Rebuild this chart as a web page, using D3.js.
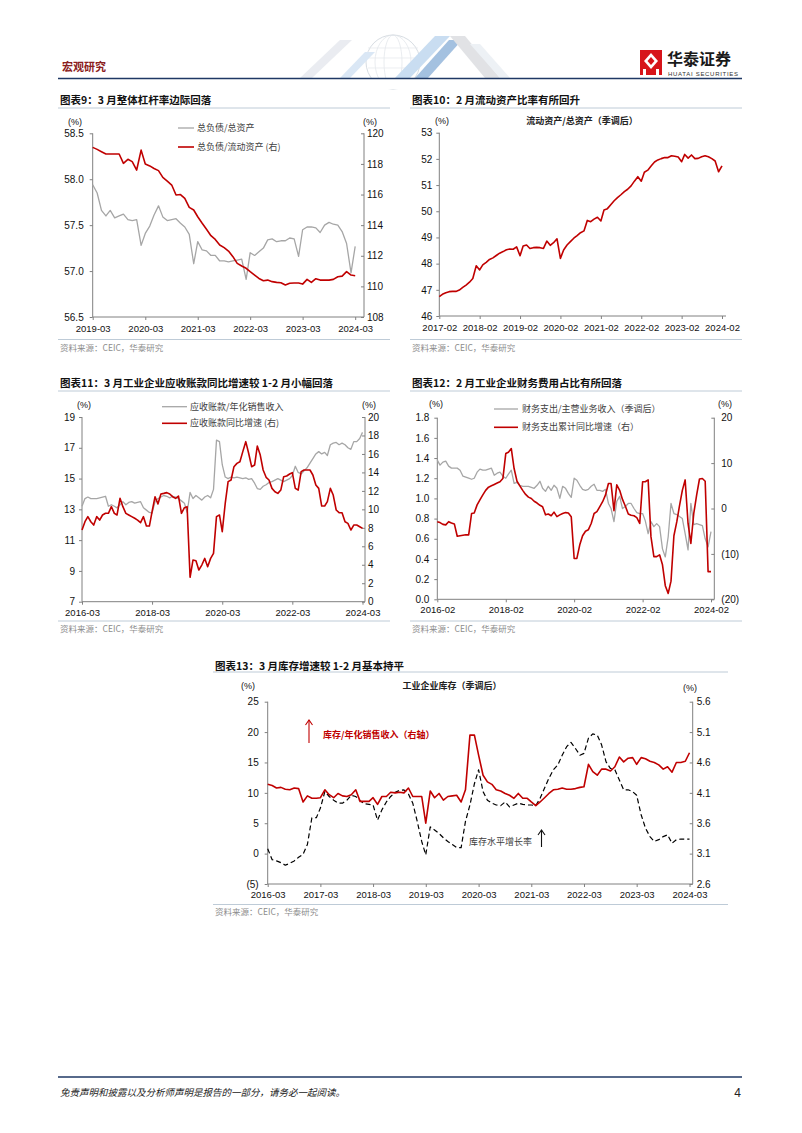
<!DOCTYPE html>
<html><head><meta charset="utf-8">
<script src="https://cdn.jsdelivr.net/npm/d3@7"></script>
<style>body{margin:0;background:#fff}svg{display:block}</style>
</head><body>
<svg id="page" width="802" height="1133"></svg>
<script>
// ---------------- DATA ----------------
// Chart 9: monthly 2019-03 .. 2024-03
const start9 = '2019-03', end9 = '2024-03';
const debtAsset9 = [57.94,57.85,57.66,57.60,57.66,57.58,57.60,57.62,57.56,57.55,57.56,57.28,57.41,57.49,57.61,57.71,57.59,57.55,57.56,57.57,57.52,57.48,57.40,57.08,57.32,57.23,57.22,57.17,57.17,57.11,57.11,57.10,57.11,57.12,57.13,56.91,57.20,57.17,57.21,57.25,57.34,57.35,57.32,57.33,57.33,57.36,57.35,57.16,57.45,57.48,57.48,57.47,57.42,57.50,57.53,57.51,57.50,57.43,57.30,56.98,57.27];
const debtCurAsset9 = [119.08,118.95,118.8,118.65,118.65,118.65,118.65,118.04,118.3,118.15,117.6,118.9,118.0,117.87,117.7,117.56,117.12,116.88,116.62,115.97,116.0,115.75,115.16,114.99,114.55,114.12,113.73,113.31,113.07,112.7,112.53,112.31,111.94,111.5,111.33,111.18,110.96,110.74,110.52,110.37,110.41,110.31,110.26,110.24,110.09,110.2,110.22,110.22,110.15,110.46,110.26,110.5,110.41,110.41,110.41,110.46,110.63,110.67,110.96,110.74,110.7];
const ticks9 = ['2019-03','2020-03','2021-03','2022-03','2023-03','2024-03'];

// Chart 10: monthly 2017-02 .. 2024-02
const start10 = '2017-02', end10 = '2024-02';
const curAssetRatio10 = [46.74,46.83,46.89,46.93,46.94,46.94,46.99,47.09,47.18,47.29,47.43,
 47.92,47.76,47.95,48.05,48.16,48.22,48.31,48.40,48.46,48.53,48.56,48.55,
 48.64,48.30,48.67,48.71,48.58,48.61,48.62,48.61,48.58,48.86,48.70,48.80,
 48.95,48.20,48.52,48.71,48.84,48.97,49.07,49.18,49.25,49.65,49.60,49.70,
 49.77,49.63,50.05,50.10,50.25,50.40,50.52,50.63,50.75,50.84,50.97,51.15,
 51.32,51.15,51.49,51.57,51.73,51.88,51.96,52.01,52.05,52.05,52.12,52.10,
 52.07,51.89,52.17,52.03,52.15,52.01,52.02,52.08,52.12,52.08,52.01,51.92,
 51.51,51.73];
const ticks10 = ['2017-02','2018-02','2019-02','2020-02','2021-02','2022-02','2023-02','2024-02'];

// Chart 11: monthly 2016-03 .. 2024-03
const start11 = '2016-03', end11 = '2024-03';
const recvSales11 = [13.2,13.7,13.8,13.7,13.7,13.7,13.75,13.8,13.85,13.2,13.3,13.2,13.1,13.3,13.5,13.3,13.45,13.5,13.4,13.45,13.5,13.1,12.95,12.8,12.75,13.5,13.7,13.8,13.9,13.85,13.75,13.85,13.8,13.7,13.55,13.4,12.8,14.1,13.7,13.9,13.75,13.6,13.8,13.9,13.75,14.3,17.5,17.4,15.9,15.1,15.0,15.1,15.05,15.1,15.05,15.0,15.05,14.95,15.0,14.7,14.35,14.3,14.5,14.6,14.75,14.8,14.9,15.0,14.9,14.8,14.9,15.0,15.2,15.8,15.4,15.3,15.5,15.7,16.0,16.3,16.6,16.75,16.6,16.7,16.5,17.2,17.3,17.35,17.2,17.3,17.2,17.0,16.9,17.4,17.4,17.6,18.0];
const recvYoY11 = [7.76,8.66,9.21,8.66,8.30,9.21,8.84,9.39,9.57,9.57,10.29,9.57,9.39,11.19,10.29,9.57,9.39,9.21,9.03,8.84,8.56,9.21,8.19,8.19,9.75,11.37,10.58,11.66,11.73,11.81,11.66,11.37,11.19,11.44,9.57,10.18,10.29,2.64,4.51,4.44,3.43,3.97,4.69,3.79,4.69,5.23,9.21,9.39,7.58,10.65,13.0,13.18,14.62,14.98,15.16,16.25,17.33,16.07,14.62,14.8,16.86,15.88,14.26,13.47,13.18,12.27,11.91,11.73,12.09,13.54,13.61,13.83,13.97,12.27,12.09,14.08,14.26,14.26,14.26,13.72,12.64,12.27,10.36,10.36,10.83,12.27,11.55,9.93,9.64,9.64,8.66,8.48,7.76,8.30,8.30,8.12,7.94];
const ticks11 = ['2016-03','2018-03','2020-03','2022-03','2024-03'];

// Chart 12: monthly 2016-02 .. 2024-02
const start12 = '2016-02', end12 = '2024-02';
const finExpRatio12 = [1.38,1.33,1.36,1.37,1.32,1.30,1.30,1.30,1.28,1.22,1.21,1.20,1.19,1.20,1.26,1.29,1.28,1.28,1.29,1.30,1.23,1.25,1.26,1.22,1.20,1.24,1.28,1.15,1.16,1.13,1.12,1.12,1.12,1.11,1.10,1.13,1.17,1.10,1.07,1.12,1.08,1.13,1.10,1.00,1.12,1.10,1.05,1.01,1.20,1.18,1.13,1.09,1.08,1.09,1.12,1.14,1.08,1.08,1.07,1.09,0.95,0.90,0.77,0.97,1.02,0.90,0.92,0.95,0.95,0.90,0.86,0.85,0.85,0.78,0.65,0.77,0.72,0.75,0.72,0.50,0.42,0.62,0.95,0.85,0.84,0.82,0.80,0.65,0.49,0.95,0.74,0.75,0.74,0.73,0.60,0.52,0.67];
const finExpYoY12 = [-2.9,-3.1,-3.5,-3.6,-2.9,-3.2,-3.4,-6.1,-6.0,-5.9,-5.8,-5.8,-1.1,-1.0,0.8,1.9,3.0,4.0,4.7,5.0,5.3,5.6,5.9,6.6,12.1,12.4,13.2,8.8,6.0,5.0,4.0,3.1,2.5,2.2,1.6,1.2,0.7,0.4,-1.4,-1.2,-1.6,-0.8,-1.8,-1.4,-1.1,-0.9,-1.0,-1.8,-11.0,-11.0,-8.0,-6.0,-5.0,-4.7,-3.3,-1.1,-0.7,0.4,1.5,3.0,5.5,5.5,-0.5,5.2,4.0,2.0,0.5,-1.2,-1.5,-1.6,-2.0,-3.3,5.9,5.9,6.3,-6.2,-10.6,-10.6,-10.2,-12.4,-17.0,-18.7,-16.0,-6.0,-2.9,0.5,4.0,6.3,-3.3,-7.7,-1.1,3.0,6.5,6.6,6.0,-13.9,-13.9];
const ticks12 = ['2016-02','2018-02','2020-02','2022-02','2024-02'];

// Chart 13: monthly 2016-03 .. 2024-03
const start13 = '2016-03', end13 = '2024-03';
const invSales13 = [4.24,4.22,4.18,4.19,4.16,4.15,4.18,4.17,3.95,4.05,4.01,4.01,4.02,4.15,4.07,4.02,4.09,4.05,4.04,4.07,4.15,3.96,3.96,3.96,4.02,3.91,4.04,4.04,4.11,4.10,4.11,4.10,4.18,4.04,4.04,4.04,3.60,4.13,4.02,4.09,3.98,4.04,4.05,4.06,3.95,4.15,5.05,5.05,4.72,4.39,4.28,4.24,4.15,4.13,4.09,4.06,4.01,4.09,4.01,4.01,3.95,3.89,3.95,4.02,4.09,4.15,4.16,4.18,4.16,4.16,4.17,4.19,4.20,4.57,4.45,4.39,4.49,4.49,4.46,4.53,4.69,4.61,4.67,4.68,4.57,4.68,4.66,4.62,4.60,4.56,4.49,4.53,4.44,4.60,4.60,4.62,4.76];
const invGrowth13 = [0.8,-1.0,-1.2,-1.5,-1.9,-1.6,-1.2,-0.6,-0.1,1.5,5.9,5.9,7.5,10.2,9.4,8.8,8.3,8.3,8.8,9.6,9.4,8.7,8.2,8.1,8.0,5.5,7.2,8.5,9.4,10.1,10.4,10.5,9.8,8.3,5.3,2.0,-0.2,4.4,3.9,3.3,2.6,2.0,1.5,1.0,1.0,5.3,8.0,11.5,13.8,10.2,8.8,8.3,8.0,7.9,8.5,7.7,8.0,8.3,8.1,8.0,8.0,7.9,9.1,10.8,12.4,13.8,14.6,16.2,17.6,18.3,17.3,16.2,16.5,19.0,19.7,19.5,17.9,15.1,14.0,13.8,12.1,10.5,10.5,10.2,9.6,6.4,4.2,2.8,2.0,2.3,2.8,3.1,1.7,2.3,2.4,2.4,2.4];
const ticks13 = ['2016-03','2017-03','2018-03','2019-03','2020-03','2021-03','2022-03','2023-03','2024-03'];

// ---------------- DRAWING ----------------
const svg = d3.select('#page');
const CJK = '"Noto Sans CJK SC","Noto Sans",sans-serif';
const NUM = '"Liberation Sans",Arial,sans-serif';
const RED = '#c00000', GRAY = '#a6a6a6', AXIS = '#808080';
const pm = d3.utcParse('%Y-%m');
const fmtParen = d => d < 0 ? `(${-d})` : `${d}`;
const months = (s, e) => d3.utcMonths(pm(s), d3.utcMonth.offset(pm(e), 1));

// ---- header ----
const hdr = svg.append('g');
const deco = hdr.append('g').attr('opacity', 0.55);
deco.append('circle').attr('cx', 393).attr('cy', 62).attr('r', 27).attr('fill', 'none').attr('stroke', '#b8c2cc').attr('stroke-width', 1);
[9, 18].forEach(rx => deco.append('ellipse').attr('cx', 393).attr('cy', 62).attr('rx', rx).attr('ry', 27).attr('fill', 'none').attr('stroke', '#c8d0d8').attr('stroke-width', 0.7));
[48, 58, 68].forEach(y => deco.append('line').attr('x1', 368).attr('x2', 418).attr('y1', y).attr('y2', y).attr('stroke', '#d0d6dc').attr('stroke-width', 0.7));
const stripes = [
  {p: [[300,78],[312,78],[352,40],[340,40]], c: '#d9dee6'},
  {p: [[395,78],[410,78],[450,36],[435,36]], c: '#9dc3e6'},
  {p: [[415,78],[428,78],[462,40],[449,40]], c: '#5b8fc7'},
  {p: [[450,36],[465,36],[500,78],[485,78]], c: '#c9ccd1'},
  {p: [[470,44],[480,44],[510,78],[500,78]], c: '#dfe6ee'},
  {p: [[340,78],[350,78],[375,52],[365,52]], c: '#bcd5ee'}
];
stripes.forEach(s => deco.append('polygon').attr('points', s.p.map(q => q.join(',')).join(' ')).attr('fill', s.c));
hdr.append('rect').attr('x', 0).attr('y', 79).attr('width', 802).attr('height', 10).attr('fill', '#fff');

hdr.append('text').attr('x', 62).attr('y', 71).text('宏观研究')
  .attr('font-family', CJK).attr('font-size', 11).attr('font-weight', 'bold').attr('fill', '#8b2020');
hdr.append('line').attr('x1', 58).attr('x2', 742).attr('y1', 78.5).attr('y2', 78.5).attr('stroke', '#1f3864').attr('stroke-width', 1.6);
// logo
const logo = hdr.append('g');
logo.append('rect').attr('x', 640).attr('y', 50).attr('width', 22).attr('height', 25).attr('fill', '#d7141a');
logo.append('path').attr('d', 'M651 53 L658 61 L651 69 L644 61 Z').attr('fill', '#fff');
logo.append('path').attr('d', 'M651 57 L654.5 61 L651 65 L647.5 61 Z').attr('fill', '#d7141a');
logo.append('rect').attr('x', 643).attr('y', 69).attr('width', 3).attr('height', 6).attr('fill', '#fff');
logo.append('rect').attr('x', 656).attr('y', 69).attr('width', 3).attr('height', 6).attr('fill', '#fff');
logo.append('text').attr('x', 667).attr('y', 64.5).text('华泰证券')
  .attr('font-family', CJK).attr('font-size', 16).attr('font-weight', 'bold').attr('fill', '#1a1a1a');
logo.append('text').attr('x', 668).attr('y', 76).text('HUATAI SECURITIES')
  .attr('font-family', NUM).attr('font-size', 6).attr('fill', '#333').attr('textLength', 70);

// ---- footer ----
svg.append('line').attr('x1', 58).attr('x2', 742).attr('y1', 1077).attr('y2', 1077).attr('stroke', '#1f3864').attr('stroke-width', 1.6);
svg.append('text').attr('x', 60).attr('y', 1096).text('免责声明和披露以及分析师声明是报告的一部分，请务必一起阅读。')
  .attr('font-family', CJK).attr('font-size', 9.5).attr('font-style', 'italic').attr('fill', '#222');
svg.append('text').attr('x', 741).attr('y', 1097).attr('text-anchor', 'end').text('4')
  .attr('font-family', NUM).attr('font-size', 12).attr('fill', '#222');

// ---- panel frame: title, separators, source ----
function panel(p) {
  svg.append('text').attr('x', p.tx).attr('y', p.ty).text(p.title)
    .attr('font-family', CJK).attr('font-size', 10.5).attr('font-weight', 'bold').attr('fill', '#111');
  [p.l1, p.l2].forEach(y => svg.append('line').attr('x1', p.x0).attr('x2', p.x1).attr('y1', y).attr('y2', y)
    .attr('stroke', '#b7c5d3').attr('stroke-width', 0.9));
  svg.append('text').attr('x', p.tx).attr('y', p.sy).text('资料来源：CEIC，华泰研究')
    .attr('font-family', CJK).attr('font-size', 8.5).attr('fill', '#8c8c8c');
}

function styleAxis(sel, size) {
  sel.select('.domain').remove();
  sel.selectAll('line').attr('stroke', AXIS).attr('stroke-width', 1);
  sel.selectAll('text').attr('font-family', NUM).attr('font-size', size).attr('fill', '#111');
}

function chart(c) {
  const g = svg.append('g');
  const dates = months(c.start, c.end);
  const x = d3.scaleUtc().domain([pm(c.start), pm(c.end)]).range([c.xl, c.xr]);
  const yL = d3.scaleLinear().domain(c.lDom).range([c.yb, c.yt]);
  const yR = c.rDom ? d3.scaleLinear().domain(c.rDom).range([c.yb, c.yt]) : null;

  const aL = g.append('g').attr('transform', `translate(${c.xl},0)`)
    .call(d3.axisLeft(yL).tickValues(c.lTicks).tickFormat(c.lFmt).tickSize(3).tickPadding(c.lPad));
  styleAxis(aL, c.yFont);
  g.append('line').attr('x1', c.xl).attr('x2', c.xl).attr('y1', c.yt).attr('y2', c.yb).attr('stroke', AXIS);
  if (yR) {
    const aR = g.append('g').attr('transform', `translate(${c.xa},0)`)
      .call(d3.axisRight(yR).tickValues(c.rTicks).tickFormat(c.rFmt).tickSize(-3).tickPadding(c.rPad));
    styleAxis(aR, c.yFont);
    g.append('line').attr('x1', c.xa).attr('x2', c.xa).attr('y1', c.yt).attr('y2', c.yb).attr('stroke', AXIS);
  }
  const aB = g.append('g').attr('transform', `translate(0,${c.yb})`)
    .call(d3.axisBottom(x).tickValues(c.xTicks.map(pm)).tickFormat(d3.utcFormat('%Y-%m')).tickSize(3).tickPadding(c.bPad));
  styleAxis(aB, c.xFont);
  g.append('line').attr('x1', c.xl).attr('x2', c.xa).attr('y1', c.yb).attr('y2', c.yb).attr('stroke', AXIS);

  g.append('text').attr('x', c.ulx).attr('y', c.uy).attr('text-anchor', 'middle').text('(%)')
    .attr('font-family', NUM).attr('font-size', 9).attr('fill', '#111');
  if (c.urx) g.append('text').attr('x', c.urx).attr('y', c.uyr || c.uy).attr('text-anchor', 'middle').text('(%)')
    .attr('font-family', NUM).attr('font-size', 9).attr('fill', '#111');

  c.series.forEach(s => {
    const y = s.axis === 'right' ? yR : yL;
    const line = d3.line().x((d, i) => x(dates[i])).y(d => y(d));
    g.append('path').datum(s.values.slice(0, dates.length)).attr('d', line)
      .attr('fill', 'none').attr('stroke', s.color).attr('stroke-width', s.width)
      .attr('stroke-dasharray', s.dash || null).attr('stroke-linejoin', 'round');
  });

  (c.legend || []).forEach(l => {
    g.append('line').attr('x1', l.x1).attr('x2', l.x2).attr('y1', l.y).attr('y2', l.y)
      .attr('stroke', l.color).attr('stroke-width', l.width);
    g.append('text').attr('x', l.tx).attr('y', l.y).attr('dy', '0.35em').text(l.text)
      .attr('font-family', CJK).attr('font-size', 9).attr('fill', '#404040');
  });
  return {g, x, yL, yR};
}

// ---- Chart 9 ----
panel({title: '图表9：3 月整体杠杆率边际回落', tx: 60, ty: 104, x0: 58, x1: 390, l1: 108, l2: 339.5, sy: 351});
chart({
  start: start9, end: end9, xTicks: ticks9,
  xl: 92.7, xr: 355.2, xa: 364, yt: 133.3, yb: 317,
  lDom: [56.5, 58.5], lTicks: [56.5, 57, 57.5, 58, 58.5], lFmt: d3.format('.1f'), lPad: 6,
  rDom: [108, 120], rTicks: d3.range(108, 121, 2), rFmt: d3.format('d'), rPad: 3,
  bPad: 5, yFont: 10, xFont: 9.5, ulx: 75, urx: 370, uy: 125,
  series: [
    {values: debtAsset9, axis: 'left', color: GRAY, width: 1.3},
    {values: debtCurAsset9, axis: 'right', color: RED, width: 1.6}
  ],
  legend: [
    {x1: 178, x2: 194, y: 128, tx: 197, color: GRAY, width: 1.3, text: '总负债/总资产'},
    {x1: 178, x2: 194, y: 147, tx: 197, color: RED, width: 1.6, text: '总负债/流动资产 (右)'}
  ]
});

// ---- Chart 10 ----
panel({title: '图表10：2 月流动资产比率有所回升', tx: 412, ty: 104, x0: 410, x1: 742, l1: 108, l2: 339.5, sy: 351});
chart({
  start: start10, end: end10, xTicks: ticks10,
  xl: 439.3, xr: 722, xa: 726, yt: 132.7, yb: 316,
  lDom: [46, 53], lTicks: d3.range(46, 54), lFmt: d3.format('d'), lPad: 4,
  bPad: 5.5, yFont: 10, xFont: 9.5, ulx: 442, uy: 124,
  series: [{values: curAssetRatio10, axis: 'left', color: RED, width: 1.6}]
});
svg.append('text').attr('x', 582).attr('y', 124).attr('text-anchor', 'middle').text('流动资产/总资产（季调后）')
  .attr('font-family', CJK).attr('font-size', 9).attr('font-weight', 'bold').attr('fill', '#222');

// ---- Chart 11 ----
panel({title: '图表11：3 月工业企业应收账款同比增速较 1-2 月小幅回落', tx: 60, ty: 387, x0: 58, x1: 390, l1: 391, l2: 621, sy: 632});
chart({
  start: start11, end: end11, xTicks: ticks11,
  xl: 82, xr: 362.5, xa: 365, yt: 417, yb: 601.7,
  lDom: [7, 19], lTicks: d3.range(7, 20, 2), lFmt: d3.format('d'), lPad: 4,
  rDom: [0, 20], rTicks: d3.range(0, 21, 2), rFmt: d3.format('d'), rPad: 3,
  bPad: 4.5, yFont: 10, xFont: 9.5, ulx: 84, urx: 369, uy: 408,
  series: [
    {values: recvSales11, axis: 'left', color: GRAY, width: 1.3},
    {values: recvYoY11, axis: 'right', color: RED, width: 1.6}
  ],
  legend: [
    {x1: 162, x2: 187, y: 406.7, tx: 190, color: GRAY, width: 1.3, text: '应收账款/年化销售收入'},
    {x1: 162, x2: 187, y: 423.3, tx: 190, color: RED, width: 1.6, text: '应收账款同比增速 (右)'}
  ]
});

// ---- Chart 12 ----
panel({title: '图表12：2 月工业企业财务费用占比有所回落', tx: 412, ty: 387, x0: 410, x1: 742, l1: 391, l2: 621, sy: 632});
chart({
  start: start12, end: end12, xTicks: ticks12,
  xl: 437.3, xr: 711, xa: 714.3, yt: 417.7, yb: 599.3,
  lDom: [0, 1.8], lTicks: d3.range(0, 10).map(i => i * 0.2), lFmt: d3.format('.1f'), lPad: 5,
  rDom: [-20, 20], rTicks: [-20, -10, 0, 10, 20], rFmt: fmtParen, rPad: 7,
  bPad: 4, yFont: 10, xFont: 9.5, ulx: 436, urx: 725, uy: 407,
  series: [
    {values: finExpRatio12, axis: 'left', color: GRAY, width: 1.3},
    {values: finExpYoY12, axis: 'right', color: RED, width: 1.6}
  ],
  legend: [
    {x1: 494, x2: 518, y: 409, tx: 522, color: GRAY, width: 1.3, text: '财务支出/主营业务收入（季调后）'},
    {x1: 494, x2: 518, y: 427.3, tx: 522, color: RED, width: 1.6, text: '财务支出累计同比增速（右）'}
  ]
});

// ---- Chart 13 ----
panel({title: '图表13：3 月库存增速较 1-2 月基本持平', tx: 215, ty: 670, x0: 213, x1: 728, l1: 672, l2: 904.5, sy: 915});
chart({
  start: start13, end: end13, xTicks: ticks13,
  xl: 267.7, xr: 689.5, xa: 692.7, yt: 701.7, yb: 884,
  lDom: [-5, 25], lTicks: d3.range(-5, 26, 5), lFmt: fmtParen, lPad: 6,
  rDom: [2.6, 5.6], rTicks: d3.range(0, 7).map(i => 2.6 + 0.5 * i), rFmt: d3.format('.1f'), rPad: 4,
  bPad: 4.5, yFont: 10, xFont: 9.5, ulx: 248, urx: 690, uy: 689, uyr: 691,
  series: [
    {values: invGrowth13, axis: 'left', color: '#000', width: 1.2, dash: '5,3'},
    {values: invSales13, axis: 'right', color: RED, width: 1.6}
  ]
});
svg.append('text').attr('x', 452).attr('y', 689).attr('text-anchor', 'middle').text('工业企业库存（季调后）')
  .attr('font-family', CJK).attr('font-size', 9).attr('font-weight', 'bold').attr('fill', '#222');
function arrow(xp, y1, y2, color) {
  svg.append('line').attr('x1', xp).attr('x2', xp).attr('y1', y1).attr('y2', y2).attr('stroke', color).attr('stroke-width', 1.1);
  svg.append('path').attr('d', `M${xp - 3.5},${y2 + 5} L${xp},${y2} L${xp + 3.5},${y2 + 5}`)
    .attr('fill', 'none').attr('stroke', color).attr('stroke-width', 1.1);
}
arrow(309, 743, 720, RED);
svg.append('text').attr('x', 323).attr('y', 735).attr('dy', '0.35em').text('库存/年化销售收入（右轴）')
  .attr('font-family', CJK).attr('font-size', 9).attr('font-weight', 'bold').attr('fill', RED);
arrow(541.5, 847, 830, '#111');
svg.append('text').attr('x', 469).attr('y', 842).attr('dy', '0.35em').text('库存水平增长率')
  .attr('font-family', CJK).attr('font-size', 9).attr('fill', '#404040');
</script>
</body></html>
